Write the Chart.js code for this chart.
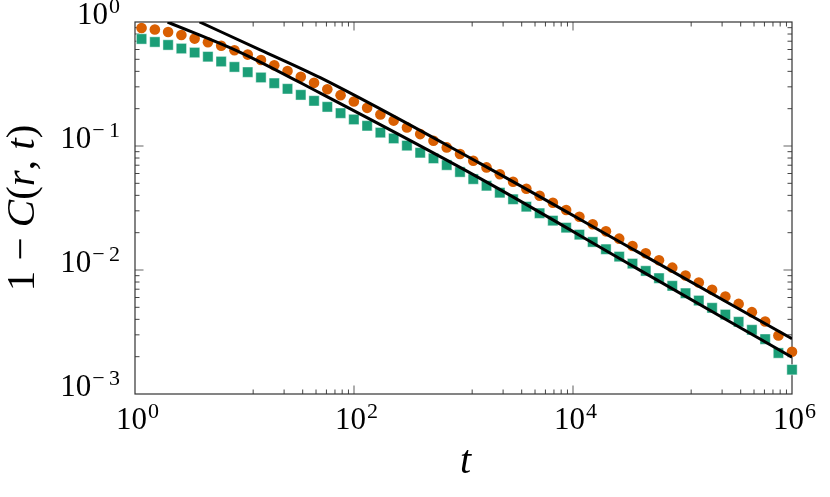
<!DOCTYPE html>
<html>
<head>
<meta charset="utf-8">
<script src="https://cdn.jsdelivr.net/npm/chart.js@4.4.0/dist/chart.umd.min.js"></script>
<style>
body { margin: 0; background: #fff; }
#wrap { width: 830px; height: 497px; }
</style>
</head>
<body>
<div id="wrap"><canvas id="chart" width="830" height="497"></canvas></div>
<script>
// sample times (shared by both data series)
const tValues = [1.148, 1.518, 2.006, 2.652, 3.505, 4.634, 6.124, 8.094, 10.70, 14.14,
  18.70, 24.71, 32.66, 43.17, 57.06, 75.42, 99.70, 131.8, 174.2, 230.3,
  304.4, 402.3, 531.8, 703.0, 929.0, 1228, 1623, 2146, 2836, 3749,
  4955, 6550, 8659, 11440, 15130, 20000, 26420, 34930, 46170, 61030,
  80670, 106600, 140900, 186300, 246300, 325500, 430300, 568800, 751600, 1000000];

// orange circles
const orangeValues = [0.895, 0.869, 0.831, 0.786, 0.735, 0.686, 0.643, 0.592, 0.546, 0.494,
  0.448, 0.403, 0.361, 0.323, 0.287, 0.257, 0.2286, 0.2031, 0.1797, 0.1602,
  0.1412, 0.1247, 0.1101, 0.0974, 0.0861, 0.0760, 0.0672, 0.0591, 0.0515, 0.0452,
  0.0397, 0.0349, 0.0305, 0.0269, 0.0234, 0.0205, 0.0179, 0.0156, 0.01365, 0.0120,
  0.01045, 0.00902, 0.00792, 0.00692, 0.00611, 0.00533, 0.00457, 0.00384, 0.00296, 0.00219];

// green squares
const greenValues = [0.730, 0.690, 0.653, 0.611, 0.567, 0.525, 0.480, 0.434, 0.394, 0.357,
  0.321, 0.289, 0.2584, 0.2312, 0.2068, 0.1840, 0.1637, 0.1455, 0.1282, 0.1151,
  0.1007, 0.0882, 0.0795, 0.0702, 0.0617, 0.0541, 0.0478, 0.0420, 0.0372, 0.0324,
  0.0287, 0.0250, 0.02195, 0.01928, 0.01683, 0.01471, 0.01282, 0.01126, 0.00983, 0.00859,
  0.00745, 0.00650, 0.00567, 0.00495, 0.00437, 0.00382, 0.00329, 0.00277, 0.00214, 0.00157];

// black curves
const upperCurveT = [3.886, 13.9, 49.2, 1415, 37500, 1000000];
const upperCurveY = [1.0, 0.597, 0.3554, 0.0724, 0.01425, 0.00279];
const lowerCurveT = [1.984, 9.14, 49.2, 1415, 37500, 1000000];
const lowerCurveY = [1.0, 0.570, 0.2667, 0.0548, 0.01041, 0.001978];

// axes
const xMajorTicks = [1, 1e2, 1e4, 1e6];
const xTickExps = ['0', '2', '4', '6'];
const yMajorTicks = [1e-3, 1e-2, 1e-1, 1];
const yTickExps = ['\u22123', '\u22122', '\u22121', '0'];

const ORANGE = '#d95f02';
const GREEN = '#1b9e77';
const FONT = '"Liberation Serif", "DejaVu Serif", serif';

function pairs(xs, ys) {
  return xs.map((x, i) => ({x: x, y: ys[i]}));
}

// minor ticks: linear steps between the x majors (every 2 decades), 2..9 per decade on y
let xMinorTicks = [];
for (let i = 0; i < xMajorTicks.length - 1; i++) {
  let a = xMajorTicks[i], b = xMajorTicks[i + 1];
  for (let j = 1; j < 9; j++) xMinorTicks.push(a + (b - a) * j / 9);
}
let yMinorTicks = [];
for (let i = 0; i < yMajorTicks.length - 1; i++) {
  for (let m = 2; m < 10; m++) yMinorTicks.push(m * yMajorTicks[i]);
}

function drawPow(ctx, exp, x, y, align) {
  ctx.font = '31px ' + FONT;
  let wb = ctx.measureText('10').width;
  ctx.font = '22px ' + FONT;
  // the minus sign in the exponent gets a little room, like in TeX
  let expTxt = exp.replace('\u2212', '\u2212\u2009');
  let we = ctx.measureText(expTxt).width;
  let x0 = align == 'center' ? x - (wb + we) / 2 : x - wb - we;
  ctx.fillStyle = '#000';
  ctx.textAlign = 'left';
  ctx.textBaseline = 'alphabetic';
  ctx.font = '31px ' + FONT;
  ctx.fillText('10', x0, y);
  ctx.font = '22px ' + FONT;
  ctx.fillText(expTxt, x0 + wb + 1, y - 11.5);
}

const framePlugin = {
  id: 'frame',
  beforeDatasetsDraw(chart) {
    const ctx = chart.ctx;
    const a = chart.chartArea;
    const xs = chart.scales.x, ys = chart.scales.y;
    ctx.save();
    // ticks, pointing inwards on all four sides
    function tick(vals, len, color, width) {
      ctx.strokeStyle = color;
      ctx.lineWidth = width;
      ctx.beginPath();
      vals.forEach(v => {
        let px = xs.getPixelForValue(v);
        if (px < a.left + 1 || px > a.right - 1) return;
        ctx.moveTo(px, a.bottom); ctx.lineTo(px, a.bottom - len);
        ctx.moveTo(px, a.top); ctx.lineTo(px, a.top + len);
      });
      ctx.stroke();
    }
    function ytick(vals, len, color, width) {
      ctx.strokeStyle = color;
      ctx.lineWidth = width;
      ctx.beginPath();
      vals.forEach(v => {
        let py = ys.getPixelForValue(v);
        if (py < a.top + 1 || py > a.bottom - 1) return;
        ctx.moveTo(a.left, py); ctx.lineTo(a.left + len, py);
        ctx.moveTo(a.right, py); ctx.lineTo(a.right - len, py);
      });
      ctx.stroke();
    }
    tick(xMinorTicks, 4.5, '#444', 1);
    tick(xMajorTicks, 8.5, '#999', 1.6);
    ytick(yMinorTicks, 4.5, '#444', 1);
    ytick(yMajorTicks, 8.5, '#999', 1.6);
    // box
    ctx.strokeStyle = '#333';
    ctx.lineWidth = 1.2;
    ctx.strokeRect(a.left, a.top, a.right - a.left, a.bottom - a.top);
    ctx.restore();
  },
  afterDraw(chart) {
    const ctx = chart.ctx;
    const a = chart.chartArea;
    const xs = chart.scales.x, ys = chart.scales.y;
    ctx.save();
    xMajorTicks.forEach((v, i) => drawPow(ctx, xTickExps[i], xs.getPixelForValue(v) + 2, a.bottom + 35, 'center'));
    yMajorTicks.forEach((v, i) => drawPow(ctx, yTickExps[i], a.left - 16, ys.getPixelForValue(v) + 2, 'right'));

    // x title
    ctx.fillStyle = '#000';
    ctx.textAlign = 'center';
    ctx.textBaseline = 'alphabetic';
    ctx.font = 'italic 40px ' + FONT;
    ctx.fillText('t', (a.left + a.right) / 2 + 2, 473);

    // y title: 1 − C(r, t)
    const parts = [['1', ''], [' \u2212 ', ''], ['C', 'italic '], ['(', ''], ['r', 'italic '], [', ', ''], ['t', 'italic '], [')', '']];
    ctx.translate(34, (a.top + a.bottom) / 2);
    ctx.rotate(-Math.PI / 2);
    let total = 0;
    parts.forEach(p => { ctx.font = p[1] + '41px ' + FONT; total += ctx.measureText(p[0]).width; });
    let x = -total / 2;
    ctx.textAlign = 'left';
    parts.forEach(p => {
      ctx.font = p[1] + '41px ' + FONT;
      ctx.fillText(p[0], x, 0);
      x += ctx.measureText(p[0]).width;
    });
    ctx.restore();
  }
};

new Chart(document.getElementById('chart'), {
  type: 'scatter',
  data: {
    datasets: [
      {
        data: pairs(upperCurveT, upperCurveY),
        showLine: true, borderColor: '#000', borderWidth: 3,
        pointRadius: 0, cubicInterpolationMode: 'monotone', order: 0
      },
      {
        data: pairs(lowerCurveT, lowerCurveY),
        showLine: true, borderColor: '#000', borderWidth: 3,
        pointRadius: 0, cubicInterpolationMode: 'monotone', order: 1
      },
      {
        data: pairs(tValues, orangeValues),
        pointStyle: 'circle', pointRadius: 5.3,
        backgroundColor: ORANGE, borderColor: ORANGE, borderWidth: 0,
        clip: false, order: 2
      },
      {
        data: pairs(tValues, greenValues),
        pointStyle: 'rect', pointRadius: 7.3,
        backgroundColor: GREEN, borderColor: 'rgba(255,255,255,0.45)', borderWidth: 1,
        clip: false, order: 3
      }
    ]
  },
  options: {
    responsive: false,
    animation: false,
    layout: { padding: { left: 135, right: 38, top: 22, bottom: 103 } },
    plugins: { legend: { display: false }, tooltip: { enabled: false } },
    scales: {
      x: { type: 'logarithmic', min: 1, max: 1e6, display: false },
      y: { type: 'logarithmic', min: 1e-3, max: 1, display: false }
    }
  },
  plugins: [framePlugin]
});
</script>
</body>
</html>
